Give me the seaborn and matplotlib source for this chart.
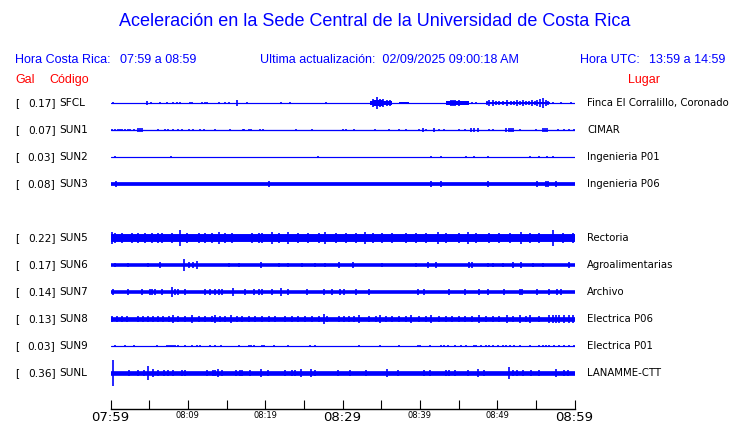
import matplotlib
matplotlib.use("Agg")
import matplotlib.pyplot as plt
import seaborn as sns
import pandas as pd

# Estaciones, pico en Gal y lugar
codigos = ["SFCL", "SUN1", "SUN2", "SUN3", "SUN5", "SUN6", "SUN7", "SUN8", "SUN9", "SUNL"]
picos = [0.17, 0.07, 0.03, 0.08, 0.22, 0.17, 0.14, 0.13, 0.03, 0.36]
lugares = ["Finca El Corralillo, Coronado", "CIMAR", "Ingenieria P01", "Ingenieria P06",
           "Rectoria", "Agroalimentarias", "Archivo", "Electrica P06", "Electrica P01",
           "LANAMME-CTT"]

# Nivel de ruido de fondo (media amplitud, Gal)
ruido = [0.012, 0.018, 0.012, 0.052, 0.11, 0.05, 0.05, 0.065, 0.014, 0.065]

# Picos individuales: minuto desde 07:59 y media amplitud (Gal)
sfcl_t = [0.37, 4.69, 5.25, 6.42, 7.28, 8.14, 8.58, 9.0, 10.3, 10.5, 11.8, 12.2, 12.5, 14.0,
          14.8, 15.3, 16.4, 17.6, 22.1, 23.2, 27.9, 34.0, 34.5, 34.8, 35.3, 35.8, 36.2, 43.6,
          44.0, 44.3, 44.6, 45.0, 45.4, 45.8, 46.2, 46.8, 47.2, 48.7, 49.0, 49.4, 49.8, 50.3,
          50.8, 51.3, 51.8, 52.2, 52.5, 53.0, 53.3, 53.7, 54.1, 54.5, 54.9, 55.2, 55.5, 55.9,
          56.3, 56.6, 57.2, 58.3, 59.6]
sfcl_a = [0.04, 0.055, 0.03, 0.025, 0.03, 0.03, 0.03, 0.03, 0.03, 0.03, 0.035, 0.04, 0.035, 0.03,
          0.025, 0.025, 0.075, 0.04, 0.025, 0.025, 0.04, 0.10, 0.16, 0.12, 0.10, 0.08, 0.07, 0.06,
          0.07, 0.075, 0.09, 0.07, 0.06, 0.065, 0.06, 0.03, 0.03, 0.06, 0.07, 0.075, 0.06, 0.065,
          0.06, 0.07, 0.065, 0.06, 0.07, 0.065, 0.09, 0.06, 0.065, 0.07, 0.06, 0.075, 0.10, 0.14,
          0.08, 0.06, 0.03, 0.03, 0.03]
# Tramos de mayor energía en SFCL: inicio, fin, media amplitud
sfcl_tramos_ini = [33.6, 34.0, 35.2, 37.3, 43.4, 48.5]
sfcl_tramos_fin = [34.0, 35.2, 36.4, 38.6, 46.4, 56.8]
sfcl_tramos_a = [0.05, 0.09, 0.06, 0.03, 0.045, 0.04]

sun1_t = [0.15, 0.58, 0.93, 1.23, 1.53, 1.88, 2.22, 2.53, 3.09, 3.6, 3.82, 4.04, 6.2, 7.06, 7.4,
          8.14, 8.7, 9.22, 10.1, 10.7, 11.6, 12.1, 13.5, 15.5, 17.1, 17.3, 17.9, 18.2, 19.3, 19.7,
          24.0, 26.1, 30.0, 30.5, 31.5, 34.2, 36.0, 37.3, 38.2, 39.9, 40.4, 40.8, 41.8, 42.5, 43.1,
          45.1, 45.9, 46.6, 47.0, 47.5, 48.9, 49.4, 51.1, 51.5, 51.8, 52.0, 52.9, 55.0, 55.9, 56.2,
          56.5, 57.9, 58.6, 59.3, 59.9]
sun1_a = [0.035, 0.035, 0.035, 0.035, 0.035, 0.035, 0.03, 0.03, 0.035, 0.05, 0.05, 0.05, 0.03,
          0.04, 0.04, 0.04, 0.04, 0.035, 0.035, 0.03, 0.03, 0.035, 0.03, 0.03, 0.04, 0.04, 0.035,
          0.03, 0.035, 0.03, 0.03, 0.03, 0.035, 0.035, 0.03, 0.04, 0.035, 0.035, 0.04, 0.04, 0.045,
          0.04, 0.05, 0.035, 0.035, 0.03, 0.035, 0.05, 0.05, 0.05, 0.035, 0.035, 0.05, 0.05, 0.05,
          0.045, 0.035, 0.03, 0.05, 0.05, 0.045, 0.03, 0.03, 0.035, 0.035]

sun2_t = [0.58, 7.8, 26.8, 41.4, 42.8, 46.0, 47.0, 48.8, 54.3, 55.4, 56.5, 57.2]
sun2_a = [0.03, 0.02, 0.02, 0.035, 0.035, 0.02, 0.02, 0.03, 0.03, 0.02, 0.03, 0.035]

sun3_t = [0.67, 20.5, 41.4, 42.8, 48.8, 55.2, 56.3, 56.6, 57.6]
sun3_a = [0.075, 0.075, 0.075, 0.085, 0.075, 0.075, 0.075, 0.075, 0.075]

sun5_t = [0.15, 0.58, 1.45, 2.74, 3.61, 4.47, 5.34, 6.2, 6.63, 7.93, 9.0, 9.87, 11.4, 12.2, 13.1,
          14.0, 14.8, 15.7, 18.3, 19.2, 19.6, 20.9, 21.8, 23.0, 24.3, 25.6, 26.9, 27.8, 29.1, 30.4,
          31.7, 32.9, 33.9, 35.1, 36.4, 38.2, 39.5, 40.8, 42.3, 43.4, 45.1, 46.2, 47.2, 49.0, 50.3,
          51.6, 53.1, 54.2, 55.4, 57.2, 58.5, 59.8]
sun5_a = [0.16, 0.14, 0.13, 0.14, 0.14, 0.14, 0.13, 0.14, 0.15, 0.13, 0.22, 0.13, 0.14, 0.14,
          0.14, 0.16, 0.14, 0.13, 0.14, 0.14, 0.15, 0.16, 0.14, 0.16, 0.13, 0.14, 0.14, 0.18, 0.14,
          0.14, 0.14, 0.17, 0.14, 0.13, 0.14, 0.14, 0.13, 0.14, 0.16, 0.14, 0.15, 0.17, 0.14, 0.14,
          0.13, 0.14, 0.18, 0.14, 0.14, 0.21, 0.14, 0.15]

sun6_t = [0.58, 2.22, 4.9, 6.4, 9.44, 10.1, 10.7, 11.2, 15.3, 16.6, 19.4, 21.8, 23.0, 24.8, 26.5,
          27.8, 29.5, 31.3, 35.1, 39.5, 41.1, 42.1, 46.4, 46.8, 48.8, 49.4, 50.7, 52.0, 53.1, 54.6,
          55.9, 59.3]
sun6_a = [0.065, 0.065, 0.065, 0.085, 0.17, 0.075, 0.075, 0.10, 0.065, 0.065, 0.09, 0.065, 0.065,
          0.065, 0.065, 0.065, 0.07, 0.075, 0.065, 0.065, 0.075, 0.075, 0.07, 0.075, 0.065, 0.065,
          0.065, 0.07, 0.07, 0.065, 0.065, 0.075]

sun7_t = [0.37, 2.22, 4.13, 5.12, 5.42, 5.77, 6.63, 7.93, 8.36, 8.79, 9.65, 12.2, 12.9, 13.5,
          14.0, 14.4, 15.8, 17.4, 18.5, 19.2, 19.6, 20.9, 22.1, 23.0, 25.4, 27.6, 28.7, 29.7, 30.2,
          31.7, 33.4, 39.8, 40.5, 43.8, 45.9, 47.7, 48.8, 50.9, 52.9, 53.2, 55.2, 56.7, 57.8, 58.3]
sun7_a = [0.075, 0.08, 0.07, 0.07, 0.07, 0.075, 0.075, 0.14, 0.075, 0.07, 0.07, 0.07, 0.07, 0.07,
          0.07, 0.07, 0.10, 0.07, 0.07, 0.07, 0.07, 0.085, 0.12, 0.08, 0.07, 0.07, 0.07, 0.07,
          0.075, 0.07, 0.07, 0.07, 0.07, 0.07, 0.07, 0.07, 0.075, 0.08, 0.07, 0.07, 0.075, 0.07,
          0.07, 0.07]

sun8_t = [0.15, 0.8, 1.45, 2.1, 3.61, 4.26, 4.9, 5.55, 6.2, 6.85, 7.5, 8.14, 8.79, 9.65, 10.6,
          11.4, 12.2, 13.1, 13.5, 14.2, 14.8, 15.6, 16.35, 17.0, 17.9, 18.7, 19.6, 20.5, 21.3, 22.6,
          23.5, 24.3, 25.2, 26.1, 26.9, 27.6, 28.0, 29.5, 30.2, 30.8, 31.5, 32.1, 33.4, 34.3, 34.9,
          35.6, 36.4, 37.3, 38.2, 38.9, 39.9, 40.8, 41.5, 42.5, 43.4, 44.2, 45.1, 45.9, 46.8, 47.7,
          48.5, 49.4, 50.3, 51.3, 52.0, 52.9, 53.7, 54.2, 55.4, 56.7, 57.2, 57.6, 58.0, 58.6, 59.3,
          59.8]
sun8_a = [0.09, 0.085, 0.09, 0.085, 0.085, 0.09, 0.085, 0.09, 0.085, 0.09, 0.085, 0.10, 0.09,
          0.085, 0.10, 0.09, 0.085, 0.09, 0.10, 0.085, 0.09, 0.10, 0.085, 0.09, 0.085, 0.09, 0.085,
          0.09, 0.085, 0.09, 0.085, 0.09, 0.085, 0.09, 0.085, 0.13, 0.09, 0.085, 0.09, 0.085, 0.09,
          0.12, 0.085, 0.09, 0.11, 0.085, 0.09, 0.085, 0.09, 0.10, 0.085, 0.09, 0.12, 0.085, 0.09,
          0.085, 0.09, 0.085, 0.09, 0.10, 0.085, 0.09, 0.085, 0.10, 0.09, 0.12, 0.085, 0.10, 0.09,
          0.12, 0.10, 0.12, 0.10, 0.10, 0.12, 0.10]

sun9_t = [0.58, 1.88, 3.09, 6.07, 7.28, 7.58, 7.84, 8.14, 8.36, 8.7, 9.57, 10.6, 11.2, 11.6,
          12.9, 13.5, 14.3, 16.6, 17.9, 18.2, 18.5, 19.6, 19.9, 21.2, 23.0, 25.8, 26.5, 32.1, 34.9,
          37.3, 39.7, 40.0, 41.3, 42.8, 43.1, 43.6, 44.6, 45.3, 46.0, 47.0, 47.3, 47.9, 48.5, 49.0,
          49.4, 50.1, 50.7, 51.1, 51.6, 52.2, 52.9, 54.3, 55.4, 55.9, 56.3, 56.7, 57.4, 58.0, 58.7,
          59.3, 59.9]
sun9_a = [0.03, 0.025, 0.02, 0.02, 0.025, 0.025, 0.025, 0.025, 0.02, 0.02, 0.02, 0.02, 0.02,
          0.025, 0.025, 0.025, 0.02, 0.02, 0.025, 0.03, 0.03, 0.02, 0.02, 0.025, 0.03, 0.025, 0.02,
          0.02, 0.02, 0.02, 0.025, 0.02, 0.025, 0.025, 0.02, 0.02, 0.025, 0.025, 0.02, 0.02, 0.025,
          0.02, 0.025, 0.02, 0.02, 0.025, 0.025, 0.02, 0.025, 0.02, 0.02, 0.02, 0.025, 0.025, 0.03,
          0.025, 0.03, 0.025, 0.025, 0.02, 0.025]

sunl_t = [0.37, 2.44, 3.61, 4.38, 4.82, 5.47, 6.11, 6.98, 7.41, 8.14, 9.31, 9.57, 12.5, 13.2,
          13.5, 13.9, 14.4, 16.2, 16.8, 17.0, 18.1, 19.4, 20.4, 22.5, 23.5, 23.9, 24.6, 25.9, 26.5,
          29.4, 31.0, 33.0, 35.8, 37.2, 40.5, 41.3, 43.4, 43.8, 44.6, 46.2, 47.5, 48.3, 51.5, 52.1,
          52.5, 53.3, 54.4, 55.4, 57.6, 58.7, 59.2]
sunl_a = [0.36, 0.085, 0.085, 0.09, 0.185, 0.11, 0.085, 0.085, 0.085, 0.085, 0.085, 0.085, 0.09,
          0.085, 0.09, 0.11, 0.085, 0.085, 0.085, 0.09, 0.085, 0.11, 0.09, 0.09, 0.085, 0.085,
          0.11, 0.11, 0.085, 0.085, 0.085, 0.09, 0.11, 0.085, 0.085, 0.09, 0.085, 0.085, 0.085,
          0.085, 0.11, 0.085, 0.17, 0.09, 0.09, 0.085, 0.085, 0.085, 0.11, 0.085, 0.085]

picos_t = [sfcl_t, sun1_t, sun2_t, sun3_t, sun5_t, sun6_t, sun7_t, sun8_t, sun9_t, sunl_t]
picos_a = [sfcl_a, sun1_a, sun2_a, sun3_a, sun5_a, sun6_a, sun7_a, sun8_a, sun9_a, sunl_a]

# Eje de tiempo (minutos desde 07:59)
ticks_min = list(range(0, 61, 5))
ticks_txt = ["07:59", "", "08:09", "", "08:19", "", "08:29", "", "08:39", "", "08:49", "", "08:59"]
ticks_grandes = ["07:59", "08:29", "08:59"]

# Layout
AZUL = "#0000ff"
ROJO = "#ff0000"
W, H = 740, 423
filas = [0, 1, 2, 3, 5, 6, 7, 8, 9, 10]   # la fila 4 queda vacía
GAN = 36 / 27                              # fila por Gal (36 px por Gal, 27 px por fila)
X0, X1 = 110.5, 574.5
Y_TOP, DY = 103, 27

sns.set_theme(style="white")
plt.rcParams["font.family"] = ["DejaVu Sans"]

fig = plt.figure(figsize=(W / 100, H / 100), dpi=100)
fig.patch.set_facecolor("white")

top_px = Y_TOP - DY / 2
bot_px = Y_TOP + DY * 10.5
ax = fig.add_axes([X0 / W, 1 - bot_px / H, (X1 - X0) / W, (bot_px - top_px) / H])
ax.set_xlim(0, 60)
ax.set_ylim(-10.5, 0.5)
ax.axis("off")

for i, cod in enumerate(codigos):
    y0 = -filas[i]
    base = pd.DataFrame({"t": [0, 60], "y": [y0, y0]})
    lw = max(1.2, 2 * ruido[i] * 36) * 0.72
    sns.lineplot(data=base, x="t", y="y", ax=ax, color=AZUL, linewidth=lw)
    a = [v * GAN for v in picos_a[i]]
    ax.vlines(picos_t[i], [y0 - v for v in a], [y0 + v for v in a], color=AZUL, linewidth=1.2)

# tramos de SFCL
for t0, t1, a in zip(sfcl_tramos_ini, sfcl_tramos_fin, sfcl_tramos_a):
    ax.fill_between([t0, t1], -filas[0] - a * GAN, -filas[0] + a * GAN, color=AZUL, linewidth=0)

# Textos de cada fila
for i, cod in enumerate(codigos):
    ypx = Y_TOP + DY * filas[i]
    yf = 1 - ypx / H
    fig.text(15 / W, yf, "[", fontsize=7.6, va="center", ha="left", color="black")
    fig.text(55.5 / W, yf, f"{picos[i]:.2f}]", fontsize=7.6, va="center", ha="right", color="black")
    fig.text(59 / W, yf, cod, fontsize=7.6, va="center", ha="left", color="black")
    fig.text(587 / W, yf, lugares[i], fontsize=7.3, va="center", ha="left", color="black")

# Eje de tiempo
axt = fig.add_axes([X0 / W, 1 - 408.5 / H, (X1 - X0) / W, 8 / H])
axt.set_xlim(0, 60)
axt.set_yticks([])
axt.set_facecolor("none")
for lado in ["top", "left", "right"]:
    axt.spines[lado].set_visible(False)
axt.spines["bottom"].set_color("black")
axt.spines["bottom"].set_linewidth(1.0)
axt.set_xticks(ticks_min)
axt.set_xticklabels(ticks_txt)
axt.tick_params(axis="x", direction="in", length=6.5, width=0.8,
                color="black", labelcolor="black", pad=1.5, bottom=True)
for lab in axt.get_xticklabels():
    if lab.get_text() in ticks_grandes:
        lab.set_fontsize(9.5)
    else:
        lab.set_fontsize(6)

# Encabezados
enc = ["Liberation Sans", "DejaVu Sans"]
fig.text(375 / W, 1 - 22 / H, "Aceleración en la Sede Central de la Universidad de Costa Rica",
         fontsize=13, color=AZUL, ha="center", va="center", family=enc)
fig.text(15 / W, 1 - 60 / H, "Hora Costa Rica:", fontsize=9, color=AZUL, va="center", family=enc)
fig.text(120 / W, 1 - 60 / H, "07:59 a 08:59", fontsize=9, color=AZUL, va="center", family=enc)
fig.text(260 / W, 1 - 60 / H, "Ultima actualización:  02/09/2025 09:00:18 AM", fontsize=9,
         color=AZUL, va="center", family=enc)
fig.text(580 / W, 1 - 60 / H, "Hora UTC:", fontsize=9, color=AZUL, va="center", family=enc)
fig.text(725 / W, 1 - 60 / H, "13:59 a 14:59", fontsize=9, color=AZUL, va="center", ha="right",
         family=enc)
fig.text(15 / W, 1 - 80 / H, "Gal", fontsize=9, color=ROJO, va="center", family=enc)
fig.text(49 / W, 1 - 80 / H, "Código", fontsize=9, color=ROJO, va="center", family=enc)
fig.text(660 / W, 1 - 80 / H, "Lugar", fontsize=9, color=ROJO, va="center", ha="right",
         family=enc)

fig.savefig("out.png", dpi=100)
